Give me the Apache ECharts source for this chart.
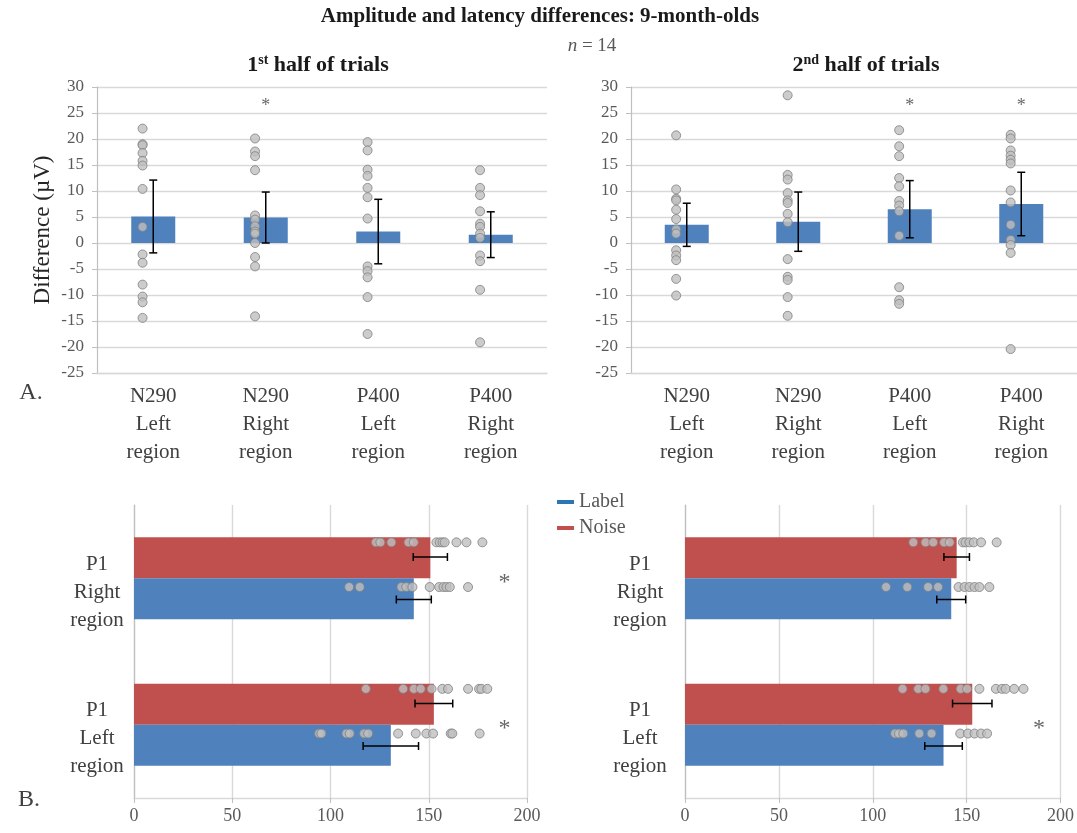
<!DOCTYPE html>
<html>
<head>
<meta charset="utf-8">
<script src="https://cdn.jsdelivr.net/npm/echarts@6/dist/echarts.min.js"></script>
<style>
  html, body { margin: 0; padding: 0; background: #ffffff; }
  #chart { width: 1077px; height: 833px; }
</style>
</head>
<body>
<div id="chart"></div>
<script>
const FONT = 'Liberation Serif';

// ---- Panel A: amplitude differences (µV) ----
const componentLabels = ['N290\nLeft\nregion', 'N290\nRight\nregion', 'P400\nLeft\nregion', 'P400\nRight\nregion'];
const diffMin = -25;
const diffMax = 30;
const diffStep = 5;

const firstHalfMean = [5.1, 4.9, 2.2, 1.6];
const firstHalfErr = [7.0, 4.9, 6.2, 4.4];
const firstHalfStars = [false, true, false, false];
const firstN290Left = [22.0, 19.0, 18.8, 17.3, 15.8, 14.9, 10.4, 3.1, -2.2, -3.8, -8.0, -10.3, -11.4, -14.4];
const firstN290Right = [20.1, 17.6, 16.7, 14.0, 5.3, 4.5, 3.2, 2.2, 1.8, 0.0, -2.7, -4.5, -14.1];
const firstP400Left = [19.4, 17.8, 14.1, 12.9, 10.6, 8.8, 4.7, -4.5, -5.4, -6.6, -10.4, -17.5];
const firstP400Right = [14.0, 10.6, 9.2, 6.1, 3.7, 3.1, 1.8, 1.0, -2.4, -3.5, -9.0, -19.1];

const secondHalfMean = [3.5, 4.1, 6.5, 7.5];
const secondHalfErr = [4.15, 5.7, 5.5, 6.1];
const secondHalfStars = [false, false, true, true];
const secondN290Left = [20.7, 10.3, 8.5, 8.2, 6.4, 4.6, 2.6, 1.8, -1.4, -2.4, -3.3, -6.9, -10.1];
const secondN290Right = [28.4, 13.1, 12.2, 9.6, 8.2, 7.7, 5.6, 4.0, -3.1, -6.5, -7.1, -10.4, -14.0];
const secondP400Left = [21.7, 18.6, 16.7, 12.5, 10.9, 8.1, 7.2, 6.1, 1.4, -8.5, -11.0, -11.7];
const secondP400Right = [20.8, 20.1, 17.8, 16.8, 16.0, 15.3, 10.1, 7.8, 3.5, 0.6, -0.4, -1.9, -20.4];

// ---- Panel B: P1 latency (ms) ----
const p1Labels = ['P1\nLeft\nregion', 'P1\nRight\nregion'];
const latencyMin = 0;
const latencyMax = 200;
const latencyStep = 50;

const firstLabelMean = [130.7, 142.4];
const firstLabelErr = [14.1, 8.9];
const firstNoiseMean = [152.6, 150.8];
const firstNoiseErr = [9.6, 8.7];
const firstP1Stars = [true, true];
const firstLeftNoise = [118.0, 137.0, 142.4, 145.9, 151.4, 156.9, 159.8, 170.0, 175.6, 176.8, 179.8];
const firstLeftLabel = [94.2, 95.4, 108.1, 109.8, 117.1, 119.2, 134.4, 143.4, 148.8, 152.2, 161.2, 162.0, 175.9];
const firstRightNoise = [123.1, 125.4, 131.0, 139.7, 142.4, 153.9, 155.6, 157.0, 158.1, 164.1, 169.2, 177.3];
const firstRightLabel = [109.5, 114.9, 136.1, 138.6, 141.7, 150.5, 155.3, 157.5, 159.0, 160.7, 170.0];

const secondLabelMean = [137.7, 141.8];
const secondLabelErr = [10.0, 7.7];
const secondNoiseMean = [153.0, 144.7];
const secondNoiseErr = [10.5, 6.8];
const secondP1Stars = [true, false];
const secondLeftNoise = [115.9, 124.2, 128.1, 137.6, 146.8, 150.3, 156.8, 165.6, 168.8, 170.8, 175.3, 180.3];
const secondLeftLabel = [111.9, 114.0, 116.3, 124.8, 131.3, 146.6, 150.7, 154.2, 157.7, 160.9];
const secondRightNoise = [121.6, 128.1, 132.2, 138.0, 141.0, 148.0, 149.4, 151.5, 153.8, 157.7, 166.0];
const secondRightLabel = [107.1, 118.4, 129.5, 134.8, 145.7, 148.9, 151.5, 154.2, 156.8, 162.1];

// ---- colours ----
const BLUE = '#4F81BD';
const RED = '#C0504D';
const GRID_LINE = '#D9D9D9';
const AXIS_LINE = '#BFBFBF';
const TICK_TEXT = '#595959';
const CAT_TEXT = '#404040';

// ---- helpers that turn the arrays into series data ----
const dotShift = 0.095;           // individual dots sit a little left of the bar centre
function columnDots(groups) {
  return groups.flatMap((pts, i) => pts.map(v => [i + 1 - dotShift, v]));
}
function columnErrors(means, errs) {
  return means.map((m, i) => [i + 1, m - errs[i], m + errs[i]]);
}
function rowDots(groups, shift) {
  return groups.flatMap((pts, i) => pts.map(v => [v, i + 1 + shift]));
}
function rowErrors(means, errs, shift) {
  return means.map((m, i) => [m - errs[i], m + errs[i], i + 1 + shift]);
}

const capHalf = 4;
const errStyle = { stroke: '#000000', lineWidth: 1.5 };
function verticalError(params, api) {
  const x = api.value(0);
  const a = api.coord([x, api.value(1)]);
  const b = api.coord([x, api.value(2)]);
  return { type: 'group', children: [
    { type: 'line', shape: { x1: a[0], y1: a[1], x2: b[0], y2: b[1] }, style: errStyle },
    { type: 'line', shape: { x1: a[0] - capHalf, y1: a[1], x2: a[0] + capHalf, y2: a[1] }, style: errStyle },
    { type: 'line', shape: { x1: b[0] - capHalf, y1: b[1], x2: b[0] + capHalf, y2: b[1] }, style: errStyle }
  ]};
}
function horizontalError(params, api) {
  const y = api.value(2);
  const a = api.coord([api.value(0), y]);
  const b = api.coord([api.value(1), y]);
  return { type: 'group', children: [
    { type: 'line', shape: { x1: a[0], y1: a[1], x2: b[0], y2: b[1] }, style: errStyle },
    { type: 'line', shape: { x1: a[0], y1: a[1] - capHalf, x2: a[0], y2: a[1] + capHalf }, style: errStyle },
    { type: 'line', shape: { x1: b[0], y1: b[1] - capHalf, x2: b[0], y2: b[1] + capHalf }, style: errStyle }
  ]};
}

const dotStyle = { color: '#BFBFBF', borderColor: '#7F7F7F', borderWidth: 1 };

function starSeries(xAxisIndex, yAxisIndex, data, size, dy) {
  return {
    type: 'scatter', xAxisIndex, yAxisIndex, data,
    symbolSize: 1, itemStyle: { color: 'rgba(0,0,0,0)' }, silent: true, z: 6,
    label: { show: true, position: 'inside', formatter: '*', fontFamily: FONT,
             fontSize: size, color: '#404040', offset: [0, dy] }
  };
}

// ---- axes ----
function diffValueAxis(gridIndex) {
  return {
    type: 'value', gridIndex, min: diffMin, max: diffMax, interval: diffStep,
    axisLine: { show: true, lineStyle: { color: AXIS_LINE, width: 1.2 } },
    axisTick: { show: true, length: 5, lineStyle: { color: AXIS_LINE } },
    splitLine: { show: true, lineStyle: { color: GRID_LINE, width: 1.4 } },
    axisLabel: { fontFamily: FONT, fontSize: 17, color: TICK_TEXT, margin: 13 }
  };
}
function componentCategoryAxis(gridIndex) {
  return {
    type: 'category', gridIndex, data: componentLabels,
    axisLine: { show: true, onZero: false, lineStyle: { color: GRID_LINE, width: 1.4 } },
    axisTick: { show: false },
    axisLabel: { fontFamily: FONT, fontSize: 21, color: CAT_TEXT, lineHeight: 28, margin: 9, interval: 0 }
  };
}
function hiddenColumnAxis(gridIndex) {
  return { type: 'value', gridIndex, min: 0.5, max: componentLabels.length + 0.5, show: false };
}
function latencyValueAxis(gridIndex) {
  return {
    type: 'value', gridIndex, min: latencyMin, max: latencyMax, interval: latencyStep,
    axisLine: { show: true, lineStyle: { color: GRID_LINE, width: 1.4 } },
    axisTick: { show: true, length: 5, lineStyle: { color: AXIS_LINE } },
    splitLine: { show: true, lineStyle: { color: GRID_LINE, width: 1.4 } },
    axisLabel: { fontFamily: FONT, fontSize: 18, color: TICK_TEXT, margin: 9 }
  };
}
function p1CategoryAxis(gridIndex, margin) {
  return {
    type: 'category', gridIndex, data: p1Labels,
    axisLine: { show: true, lineStyle: { color: AXIS_LINE, width: 1.2 } },
    axisTick: { show: false },
    axisLabel: { fontFamily: FONT, fontSize: 21, color: CAT_TEXT, lineHeight: 28,
                 align: 'center', margin,
                 // labels sit slightly below the middle of each pair of bars
                 formatter: v => '\n' + v }
  };
}
function hiddenRowAxis(gridIndex) {
  return { type: 'value', gridIndex, min: 0.5, max: p1Labels.length + 0.5, show: false };
}

// ---- panel builders ----
function columnPanel(catX, valX, yIdx, means, errs, groups, stars) {
  return [
    { type: 'bar', xAxisIndex: catX, yAxisIndex: yIdx, data: means, barWidth: 44,
      itemStyle: { color: BLUE }, silent: true, z: 2 },
    { type: 'scatter', xAxisIndex: valX, yAxisIndex: yIdx, data: columnDots(groups),
      symbolSize: 9, itemStyle: dotStyle, silent: true, z: 3 },
    { type: 'custom', xAxisIndex: valX, yAxisIndex: yIdx, data: columnErrors(means, errs),
      renderItem: verticalError, encode: { x: 0, y: [1, 2] }, silent: true, z: 4 },
    starSeries(valX, yIdx, stars.map((s, i) => s ? [i + 1, 26.9] : null).filter(Boolean), 18, 3)
  ];
}
function rowPanel(xIdx, catY, valY, labelMean, labelErr, noiseMean, noiseErr, noiseDots, labelDots, stars) {
  return [
    { name: 'Noise', type: 'bar', xAxisIndex: xIdx, yAxisIndex: catY, data: noiseMean,
      barWidth: 41, barGap: '0%', itemStyle: { color: RED }, silent: true, z: 2 },
    { name: 'Label', type: 'bar', xAxisIndex: xIdx, yAxisIndex: catY, data: labelMean,
      barWidth: 41, barGap: '0%', itemStyle: { color: BLUE }, silent: true, z: 2 },
    { type: 'scatter', xAxisIndex: xIdx, yAxisIndex: valY, data: rowDots(noiseDots, 0.245),
      symbolSize: 9, itemStyle: dotStyle, silent: true, z: 3 },
    { type: 'scatter', xAxisIndex: xIdx, yAxisIndex: valY, data: rowDots(labelDots, -0.06),
      symbolSize: 9, itemStyle: dotStyle, silent: true, z: 3 },
    { type: 'custom', xAxisIndex: xIdx, yAxisIndex: valY, data: rowErrors(noiseMean, noiseErr, 0.145),
      renderItem: horizontalError, encode: { x: [0, 1], y: 2 }, silent: true, z: 4 },
    { type: 'custom', xAxisIndex: xIdx, yAxisIndex: valY, data: rowErrors(labelMean, labelErr, -0.145),
      renderItem: horizontalError, encode: { x: [0, 1], y: 2 }, silent: true, z: 4 },
    starSeries(xIdx, valY, stars.map((s, i) => s ? [188.5, i + 1] : null).filter(Boolean), 24, 4)
  ];
}

function text(x, y, str, font, color, extra) {
  return { type: 'text', x, y, silent: true,
    style: Object.assign({ text: str, font, fill: color, align: 'center', verticalAlign: 'middle' }, extra || {}) };
}
function halfTitle(x, num, suffix) {
  return { type: 'text', x, y: 65, silent: true, style: {
    text: '{b|' + num + '}{s|' + suffix + '}{b| half of trials}', align: 'center', verticalAlign: 'middle',
    rich: { b: { fontFamily: FONT, fontSize: 22, fontWeight: 'bold', fill: '#1a1a1a' },
            s: { fontFamily: FONT, fontSize: 14, fontWeight: 'bold', fill: '#1a1a1a', padding: [0, 0, 10, 0] } } } };
}

const option = {
  animation: false,
  backgroundColor: '#ffffff',
  grid: [
    { left: 97, top: 87, width: 450, height: 286 },
    { left: 631, top: 87, width: 449, height: 286 },
    { left: 134, top: 505, width: 393, height: 293 },
    { left: 685, top: 505, width: 378, height: 293 }
  ],
  xAxis: [
    componentCategoryAxis(0),
    hiddenColumnAxis(0),
    componentCategoryAxis(1),
    hiddenColumnAxis(1),
    latencyValueAxis(2),
    latencyValueAxis(3)
  ],
  yAxis: [
    Object.assign(diffValueAxis(0), {
      name: 'Difference (µV)', nameLocation: 'middle', nameGap: 43, nameRotate: 90,
      nameTextStyle: { fontFamily: FONT, fontSize: 23, color: '#262626' }
    }),
    diffValueAxis(1),
    p1CategoryAxis(2, 37),
    hiddenRowAxis(2),
    p1CategoryAxis(3, 45),
    hiddenRowAxis(3)
  ],
  legend: {
    orient: 'vertical', left: 552, top: 487, icon: 'rect', itemWidth: 17, itemHeight: 4, itemGap: 6,
    textStyle: { fontFamily: FONT, fontSize: 20, color: TICK_TEXT, lineHeight: 20 },
    data: [
      { name: 'Label', itemStyle: { color: '#2E75B6' } },
      { name: 'Noise', itemStyle: { color: RED } }
    ],
    selectedMode: false
  },
  graphic: [
    text(540, 17, 'Amplitude and latency differences: 9-month-olds', 'bold 21px ' + FONT, '#1a1a1a'),
    { type: 'text', x: 592, y: 46, silent: true, style: {
        text: '{i|n} = 14', align: 'center', verticalAlign: 'middle', fill: TICK_TEXT,
        font: '19px ' + FONT,
        rich: { i: { fontFamily: FONT, fontSize: 19, fontStyle: 'italic', fill: TICK_TEXT } } } },
    halfTitle(318, '1', 'st'),
    halfTitle(866, '2', 'nd'),
    text(31, 393, 'A.', '24px ' + FONT, CAT_TEXT),
    text(29, 800, 'B.', '24px ' + FONT, CAT_TEXT)
  ],
  series: [
    ...columnPanel(0, 1, 0, firstHalfMean, firstHalfErr,
      [firstN290Left, firstN290Right, firstP400Left, firstP400Right], firstHalfStars),
    ...columnPanel(2, 3, 1, secondHalfMean, secondHalfErr,
      [secondN290Left, secondN290Right, secondP400Left, secondP400Right], secondHalfStars),
    ...rowPanel(4, 2, 3, firstLabelMean, firstLabelErr, firstNoiseMean, firstNoiseErr,
      [firstLeftNoise, firstRightNoise], [firstLeftLabel, firstRightLabel], firstP1Stars),
    ...rowPanel(5, 4, 5, secondLabelMean, secondLabelErr, secondNoiseMean, secondNoiseErr,
      [secondLeftNoise, secondRightNoise], [secondLeftLabel, secondRightLabel], secondP1Stars)
  ]
};

const chart = echarts.init(document.getElementById('chart'), null, { renderer: 'canvas' });
chart.setOption(option);
</script>
</body>
</html>
